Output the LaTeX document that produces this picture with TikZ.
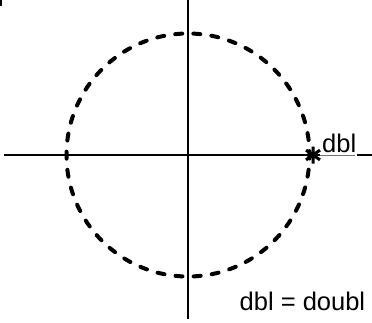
\documentclass[tikz,border=0pt]{standalone}
\usepackage{fontspec}
\setmainfont{Liberation Sans}
\begin{document}
\begin{tikzpicture}[x=1pt,y=-1pt,
  axisline/.style={line width=1.8pt,black},
  axisthin/.style={line width=0.8pt,black!55},
  dashcirc/.style={line width=4pt,line cap=round,dash pattern=on 7pt off 11.17pt,dash phase=3.5pt},
  starline/.style={line width=3pt},
  lbl/.style={anchor=base west,inner sep=0pt,font=\fontsize{25.5}{30}\selectfont}]
\useasboundingbox (0,0) rectangle (372,322);
% small corner mark
\fill (0,0) rectangle (2,6);
% coordinates
\coordinate (O) at (188,155);
\coordinate (vtop) at (188,0);
\coordinate (vbot) at (188,319);
\coordinate (hl) at (4,155);
\coordinate (h1) at (320,155);
\coordinate (h2) at (355,155.5);
\coordinate (h3) at (357,155);
\coordinate (hr) at (372,155);
% axes
\draw[axisline] (vtop) -- (vbot);
\draw[axisline] (hl) -- (h1);
\draw[axisthin] (h1 |- h2) -- (h2);
\draw[axisline] (h3) -- (hr);
% dashed circle
\draw[dashcirc] (O) circle[radius=121.5];
% star marker
\coordinate (S) at (313,155);
\draw[starline] ([shift={(90:8.5)}]S) -- ([shift={(270:8.5)}]S)
                ([shift={(35:8.5)}]S) -- ([shift={(215:8.5)}]S)
                ([shift={(145:8.5)}]S) -- ([shift={(325:8.5)}]S);
% labels
\node[lbl] (dbl) at (322,152) {dbl};
\node[lbl] (legend) at (239.5,310) {dbl = doubl};
\end{tikzpicture}
\end{document}
